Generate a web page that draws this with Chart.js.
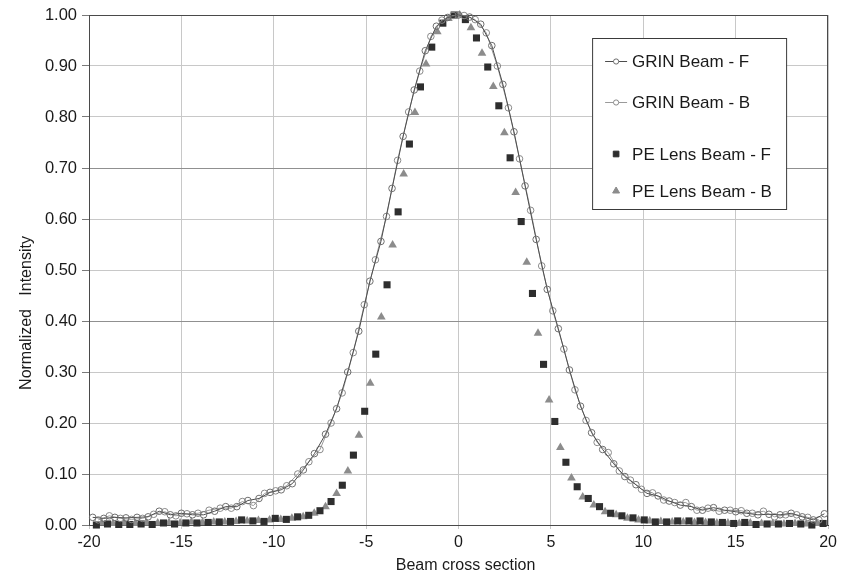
<!DOCTYPE html>
<html>
<head>
<meta charset="utf-8">
<script src="https://cdn.jsdelivr.net/npm/chart.js@4.4.0/dist/chart.umd.min.js"></script>
<style>
  html, body { margin: 0; padding: 0; background: #fff; }
  #wrap { width: 841px; height: 575px; }
</style>
</head>
<body>
<div id="wrap"><canvas id="beam-chart" width="841" height="575"></canvas></div>
<script>
// GRIN beam profiles (open circles + line)
const grinFx = [-19.8, -19.2, -18.6, -18.0, -17.4, -16.8, -16.2, -15.6, -15.0, -14.4, -13.8, -13.2, -12.6, -12.0, -11.4, -10.8, -10.2, -9.6, -9.0, -8.4, -7.8, -7.2, -6.6, -6.0, -5.4, -4.8, -4.2, -3.6, -3.0, -2.4, -1.8, -1.2, -0.6, 0.0, 0.6, 1.2, 1.8, 2.4, 3.0, 3.6, 4.2, 4.8, 5.4, 6.0, 6.6, 7.2, 7.8, 8.4, 9.0, 9.6, 10.2, 10.8, 11.4, 12.0, 12.6, 13.2, 13.8, 14.4, 15.0, 15.6, 16.2, 16.8, 17.4, 18.0, 18.6, 19.2, 19.8];
const grinFy = [0.015, 0.013, 0.015, 0.014, 0.015, 0.016, 0.027, 0.020, 0.023, 0.020, 0.020, 0.027, 0.036, 0.036, 0.048, 0.052, 0.064, 0.069, 0.081, 0.108, 0.140, 0.178, 0.228, 0.300, 0.380, 0.478, 0.556, 0.660, 0.762, 0.853, 0.930, 0.978, 0.995, 1.000, 0.996, 0.982, 0.940, 0.864, 0.771, 0.665, 0.560, 0.462, 0.385, 0.304, 0.233, 0.181, 0.148, 0.120, 0.095, 0.079, 0.062, 0.057, 0.047, 0.039, 0.036, 0.029, 0.034, 0.029, 0.026, 0.023, 0.020, 0.021, 0.020, 0.023, 0.016, 0.010, 0.022];

const grinBx = [-19.5, -18.9, -18.3, -17.7, -17.1, -16.5, -15.9, -15.3, -14.7, -14.1, -13.5, -12.9, -12.3, -11.7, -11.1, -10.5, -9.9, -9.3, -8.7, -8.1, -7.5, -6.9, -6.3, -5.7, -5.1, -4.5, -3.9, -3.3, -2.7, -2.1, -1.5, -0.9, -0.3, 0.3, 0.9, 1.5, 2.1, 2.7, 3.3, 3.9, 4.5, 5.1, 5.7, 6.3, 6.9, 7.5, 8.1, 8.7, 9.3, 9.9, 10.5, 11.1, 11.7, 12.3, 12.9, 13.5, 14.1, 14.7, 15.3, 15.9, 16.5, 17.1, 17.7, 18.3, 18.9, 19.5];
const grinBy = [0.010, 0.018, 0.013, 0.011, 0.013, 0.021, 0.026, 0.018, 0.022, 0.023, 0.029, 0.033, 0.033, 0.046, 0.038, 0.062, 0.067, 0.077, 0.100, 0.124, 0.148, 0.200, 0.259, 0.338, 0.432, 0.520, 0.605, 0.715, 0.810, 0.890, 0.958, 0.990, 0.999, 0.999, 0.991, 0.965, 0.900, 0.818, 0.718, 0.617, 0.508, 0.420, 0.345, 0.265, 0.205, 0.162, 0.142, 0.106, 0.088, 0.070, 0.063, 0.049, 0.044, 0.044, 0.029, 0.033, 0.027, 0.029, 0.028, 0.023, 0.027, 0.016, 0.020, 0.020, 0.015, 0.010];

// PE lens beam profiles (markers only)
const peFx = [-19.60, -19.00, -18.39, -17.79, -17.18, -16.58, -15.97, -15.37, -14.76, -14.16, -13.55, -12.95, -12.34, -11.74, -11.13, -10.53, -9.92, -9.32, -8.71, -8.11, -7.50, -6.90, -6.29, -5.69, -5.08, -4.48, -3.87, -3.27, -2.66, -2.06, -1.45, -0.85, -0.24, 0.37, 0.97, 1.58, 2.18, 2.79, 3.39, 4.00, 4.60, 5.21, 5.81, 6.42, 7.02, 7.63, 8.23, 8.84, 9.44, 10.05, 10.65, 11.26, 11.86, 12.47, 13.07, 13.68, 14.28, 14.89, 15.49, 16.10, 16.70, 17.31, 17.91, 18.52, 19.12, 19.73];
const peFy = [0.000, 0.002, 0.001, 0.001, 0.002, 0.001, 0.004, 0.002, 0.004, 0.004, 0.005, 0.006, 0.007, 0.010, 0.008, 0.007, 0.013, 0.011, 0.016, 0.019, 0.028, 0.046, 0.078, 0.137, 0.223, 0.335, 0.471, 0.614, 0.747, 0.859, 0.937, 0.984, 1.000, 0.991, 0.955, 0.898, 0.822, 0.720, 0.595, 0.454, 0.315, 0.203, 0.123, 0.075, 0.052, 0.036, 0.023, 0.018, 0.014, 0.010, 0.006, 0.006, 0.008, 0.008, 0.008, 0.006, 0.005, 0.003, 0.005, 0.001, 0.002, 0.002, 0.003, 0.002, 0.000, 0.003];

const peBx = [-19.30, -18.70, -18.09, -17.49, -16.88, -16.28, -15.67, -15.07, -14.46, -13.86, -13.25, -12.65, -12.04, -11.44, -10.83, -10.23, -9.62, -9.02, -8.41, -7.81, -7.20, -6.60, -5.99, -5.39, -4.78, -4.18, -3.57, -2.97, -2.36, -1.76, -1.15, -0.55, 0.06, 0.67, 1.27, 1.88, 2.48, 3.09, 3.69, 4.30, 4.90, 5.51, 6.11, 6.72, 7.32, 7.93, 8.53, 9.14, 9.74, 10.35, 10.95, 11.56, 12.16, 12.77, 13.37, 13.98, 14.58, 15.19, 15.79, 16.40, 17.00, 17.61, 18.21, 18.82, 19.42];
const peBy = [0.004, 0.003, 0.004, 0.003, 0.004, 0.004, 0.005, 0.004, 0.006, 0.005, 0.006, 0.006, 0.007, 0.008, 0.009, 0.010, 0.011, 0.013, 0.016, 0.023, 0.036, 0.062, 0.106, 0.176, 0.278, 0.408, 0.549, 0.688, 0.809, 0.904, 0.967, 0.993, 1.000, 0.975, 0.925, 0.860, 0.769, 0.652, 0.515, 0.376, 0.245, 0.152, 0.092, 0.055, 0.039, 0.026, 0.020, 0.013, 0.010, 0.008, 0.007, 0.006, 0.006, 0.005, 0.005, 0.004, 0.004, 0.003, 0.004, 0.003, 0.003, 0.002, 0.003, 0.002, 0.003];

const seriesNames = ['GRIN Beam - F', 'GRIN Beam - B', 'PE Lens Beam - F', 'PE Lens Beam - B'];
const xTitle = 'Beam cross section';
const yTitle = 'Normalized   Intensity';

const FONT = "'Liberation Sans', Arial, sans-serif";

function pts(xs, ys) {
    return xs.map((x, i) => ({ x: x, y: ys[i] }));
}

// frame round the plot, axis titles and the boxed legend
const decorations = {
    id: 'decorations',
    beforeDatasetsDraw(chart) {
        const { ctx, chartArea: a } = chart;
        ctx.save();
        ctx.strokeStyle = '#4a4a4a';
        ctx.lineWidth = 1;
        ctx.strokeRect(Math.round(a.left) + 0.5, Math.round(a.top) + 0.5,
            Math.round(a.width) - 1, Math.round(a.height));
        ctx.restore();
    },
    afterDraw(chart) {
        const { ctx, chartArea: a } = chart;
        const ds = chart.data.datasets;
        ctx.save();

        // axis titles
        ctx.fillStyle = '#1a1a1a';
        ctx.font = '16px ' + FONT;
        ctx.textAlign = 'center';
        ctx.textBaseline = 'middle';
        ctx.fillText(xTitle, a.left + a.width / 2 + 7, 566);
        ctx.save();
        ctx.translate(27, 313);
        ctx.rotate(-Math.PI / 2);
        ctx.fillText(yTitle, 0, 0);
        ctx.restore();

        // legend box
        const bx = a.right - 236, by = a.top + 23, bw = 194, bh = 171;
        ctx.fillStyle = '#fff';
        ctx.fillRect(bx, by, bw, bh);
        ctx.strokeStyle = '#3a3a3a';
        ctx.lineWidth = 1;
        ctx.strokeRect(bx + 0.5, by + 0.5, bw, bh);

        const rows = [23, 64, 116, 153];
        const mx = bx + 24;
        ctx.font = '17px ' + FONT;
        ctx.textAlign = 'left';
        rows.forEach((dy, i) => {
            const y = by + dy;
            const d = ds[i];
            if (i < 2) {
                ctx.strokeStyle = d.borderColor;
                ctx.beginPath();
                ctx.moveTo(mx - 11, y + 0.5);
                ctx.lineTo(mx + 11, y + 0.5);
                ctx.stroke();
                ctx.strokeStyle = d.pointBorderColor;
                ctx.fillStyle = '#fff';
                ctx.beginPath();
                ctx.arc(mx, y + 0.5, 2.6, 0, Math.PI * 2);
                ctx.fill();
                ctx.stroke();
            } else {
                ctx.fillStyle = d.pointBackgroundColor;
                ctx.strokeStyle = d.pointBackgroundColor;
                Chart.helpers.drawPoint(ctx, {
                    pointStyle: d.pointStyle, radius: 4, borderWidth: 1
                }, mx, y);
            }
            ctx.fillStyle = '#1a1a1a';
            ctx.fillText(seriesNames[i], bx + 40, y + 1);
        });
        ctx.restore();
    }
};

const ctx = document.getElementById('beam-chart').getContext('2d');
new Chart(ctx, {
    type: 'scatter',
    data: {
        datasets: [
            {
                label: seriesNames[0],
                data: pts(grinFx, grinFy),
                showLine: true,
                borderColor: '#4d4d4d',
                borderWidth: 1,
                pointStyle: 'circle',
                pointRadius: 3.3,
                pointBorderWidth: 1,
                pointBorderColor: '#6e6e6e',
                pointBackgroundColor: 'rgba(255,255,255,0)',
                tension: 0,
                clip: false
            },
            {
                label: seriesNames[1],
                data: pts(grinBx, grinBy),
                showLine: true,
                borderColor: '#9a9a9a',
                borderWidth: 1,
                pointStyle: 'circle',
                pointRadius: 3.3,
                pointBorderWidth: 1,
                pointBorderColor: '#8a8a8a',
                pointBackgroundColor: 'rgba(255,255,255,0)',
                tension: 0,
                clip: false
            },
            {
                label: seriesNames[2],
                data: pts(peFx, peFy),
                showLine: false,
                pointStyle: 'rect',
                pointRadius: 5,
                pointBorderWidth: 0,
                pointBorderColor: '#2e2e2e',
                pointBackgroundColor: '#2e2e2e',
                clip: false
            },
            {
                label: seriesNames[3],
                data: pts(peBx, peBy),
                showLine: false,
                pointStyle: 'triangle',
                pointRadius: 5,
                pointBorderWidth: 0,
                pointBorderColor: '#8c8c8c',
                pointBackgroundColor: '#8c8c8c',
                clip: false
            }
        ]
    },
    options: {
        responsive: false,
        animation: false,
        layout: { padding: { top: 15, right: 12, left: 0, bottom: 0 } },
        plugins: {
            legend: { display: false },
            tooltip: { enabled: false }
        },
        scales: {
            x: {
                type: 'linear',
                min: -20,
                max: 20,
                ticks: {
                    stepSize: 5,
                    color: '#1a1a1a',
                    font: { size: 16, family: FONT },
                    padding: 4,
                    maxRotation: 0
                },
                grid: { color: '#c8c8c8', tickLength: 4, tickColor: '#c8c8c8' },
                border: { color: '#3a3a3a' },
                afterFit(scale) { scale.height = 50; }
            },
            y: {
                min: 0,
                max: 1,
                ticks: {
                    stepSize: 0.1,
                    color: '#1a1a1a',
                    font: { size: 16.5, family: FONT },
                    padding: 5,
                    callback: v => v.toFixed(2)
                },
                grid: {
                    color: c => {
                        const v = Math.round(c.tick.value * 10);
                        return (v === 4 || v === 7) ? '#909090' : '#c8c8c8';
                    },
                    tickLength: 7,
                    tickColor: '#7a7a7a'
                },
                border: { color: '#6a6a6a' },
                afterFit(scale) { scale.width = 89; }
            }
        }
    },
    plugins: [decorations]
});
</script>
</body>
</html>
